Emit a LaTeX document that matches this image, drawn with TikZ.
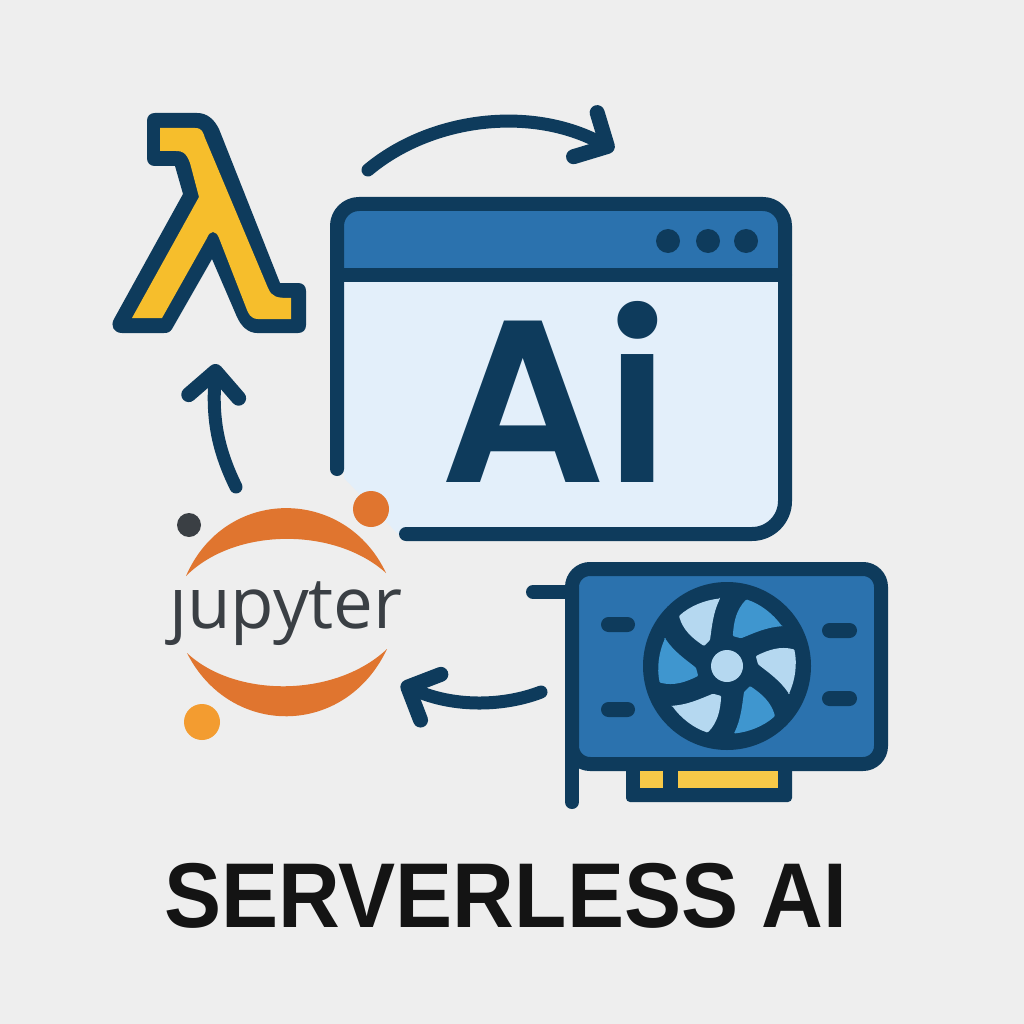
\documentclass[tikz,border=0pt]{standalone}
\usepackage{fontspec}
\setmainfont{Liberation Sans}
\newfontfamily\jupfont{Open Sans}
\newfontfamily\aifont{Poppins SemiBold}
\usetikzlibrary{arrows.meta, positioning}
\definecolor{pagegray}{HTML}{EEEEEE}
\definecolor{navy}{HTML}{0E3B5C}
\definecolor{boardblue}{HTML}{2B72AE}
\definecolor{paleblue}{HTML}{E3EFFA}
\definecolor{lambdayellow}{HTML}{F6BE2C}
\definecolor{padyellow}{HTML}{F7C948}
\definecolor{bladelight}{HTML}{B5D8F0}
\definecolor{blademid}{HTML}{3F96CF}
\definecolor{juporange}{HTML}{E0752F}
\definecolor{jupamber}{HTML}{F39C30}
\definecolor{jupdark}{HTML}{3A3F44}
\tikzset{
  outline/.style={draw=navy, line width=14pt, line join=round, line cap=round},
  flow/.style={draw=navy, line width=13pt, line cap=round, line join=round, -{Straight Barb[line width=15pt,length=25pt,width=50pt,round]}},
  slot/.style={fill=navy, rounded corners=7.5pt},
}
\begin{document}
\begin{tikzpicture}[x=1pt,y=-1pt]
    \useasboundingbox (0,0) rectangle (1024,1024);
    \fill[pagegray] (0,0) rectangle (1024,1024);

    % lambda
    \fill[navy] (155,113) -- (197,113) .. controls (207,113) and (214,119) .. (219,129)
        -- (280,283) -- (298,283) .. controls (303,283) and (306,286) .. (306,291)
        -- (306,325) .. controls (306,330) and (303,333) .. (298,333)
        -- (257,333) .. controls (248,333) and (241,326) .. (237,317)
        -- (212,259) -- (172,329) .. controls (170,332) and (168,333) .. (164,333)
        -- (122,333) .. controls (114,333) and (110,326) .. (114,319)
        -- (183,194) -- (175,166) -- (155,166) .. controls (150,166) and (147,163) .. (147,158)
        -- (147,121) .. controls (147,116) and (150,113) .. (155,113) -- cycle;
    \fill[lambdayellow] (160,128) -- (195,128) .. controls (202,128) and (203,132) .. (205,138) -- (268,288)
        .. controls (272,297) and (276,298) .. (291,298) -- (291,319) -- (258,319) .. controls (250,319) and (248,312) .. (247,310)
        -- (219,238) .. controls (216,230) and (210,230) .. (207,238) -- (162,318) -- (132,318) -- (199,197)
        -- (190,163) .. controls (186,152) and (182,151) .. (176,151) -- (160,151) -- cycle;

    % window
    \fill[paleblue] (344,275) -- (344,478) -- (398,534) [rounded corners=33pt] -- (785,534) -- (785,275) -- cycle;
    \fill[boardblue, rounded corners=22pt] (337,204) rectangle (785,300);
    \fill[paleblue] (344,275) rectangle (778,310);
    \draw[outline, rounded corners=22pt] (337,469) -- (337,204) -- (785,204) [rounded corners=33pt] -- (785,534) -- (406,534);
    \draw[outline] (337,275) -- (785,275);
    \foreach \x in {668,708,746}
        \fill[navy] (\x,241) circle (12);
    \node[font=\aifont\fontsize{231}{231}\selectfont, text=navy, inner sep=0pt, anchor=base] (aitext) at (555,482) {Ai};

    % gpu card
    \draw[outline] (533,592) -- (572,592);
    \draw[outline] (572,640) -- (572,802);
    \fill[navy, rounded corners=4pt] (626,750) rectangle (792,802);
    \draw[outline, fill=boardblue, rounded corners=18pt] (572,569) rectangle (881,764);
    \fill[padyellow] (640,771) rectangle (663,788);
    \fill[padyellow] (678,771) rectangle (778,788);
    \fill[slot] (601,617) rectangle (635,632);
    \fill[slot] (601,702) rectangle (635,717);
    \fill[slot] (822,623) rectangle (857,638);
    \fill[slot] (822,691) rectangle (857,706);

    % fan
    \fill[navy] (727,666) circle (84);
    \foreach \a/\c in {0/bladelight,-60/blademid,-120/bladelight,-180/blademid,-240/bladelight,-300/blademid}
        \fill[\c, rounded corners=1pt, shift={(727,666)}, rotate=\a]
            (-7,-67.5) .. controls (-22,-66) and (-37,-60) .. (-48,-50)
            .. controls (-44,-36) and (-35,-28) .. (-23,-20)
            -- (-17,-26) .. controls (-15,-40) and (-14,-53) .. cycle;
    \fill[navy] (727,666) circle (29);
    \fill[bladelight] (727,666) circle (16);

    % jupyter
    \node[font=\jupfont\fontsize{71}{71}\selectfont, text=jupdark, inner sep=0pt, anchor=base] (juptext) at (286,628) {jupyter};
    \fill[pagegray] (172,566) rectangle (194,588);
    \fill[juporange] (186,576) .. controls (225,486) and (345,486) .. (386,573) .. controls (335,527) and (235,527) .. cycle;
    \fill[juporange] (187,653) .. controls (230,738) and (345,738) .. (387,649) .. controls (335,698) and (235,698) .. cycle;
    \fill[jupdark] (189,525) circle (12);
    \fill[juporange] (371,509) circle (18);
    \fill[jupamber] (202,722) circle (18);

    % flow arrows
    \coordinate (topstart) at (368,170);
    \coordinate (topend) at (614,150);
    \coordinate (gpustart) at (541,692);
    \coordinate (gpuend) at (401,684);
    \coordinate (jupstart) at (236,487);
    \coordinate (jupend) at (216,364);
    \draw[flow] (topstart) .. controls (430,118) and (530,105) .. (topend);
    \draw[flow] (gpustart) .. controls (505,706) and (455,708) .. (gpuend);
    \draw[flow] (jupstart) .. controls (218,450) and (212,420) .. (jupend);

    % title
    \node[font=\bfseries\fontsize{92}{92}\selectfont, text=black!92, inner sep=0pt, anchor=base, xscale=0.93, transform shape] (title) at (506,927) {SERVERLESS AI};
\end{tikzpicture}
\end{document}
